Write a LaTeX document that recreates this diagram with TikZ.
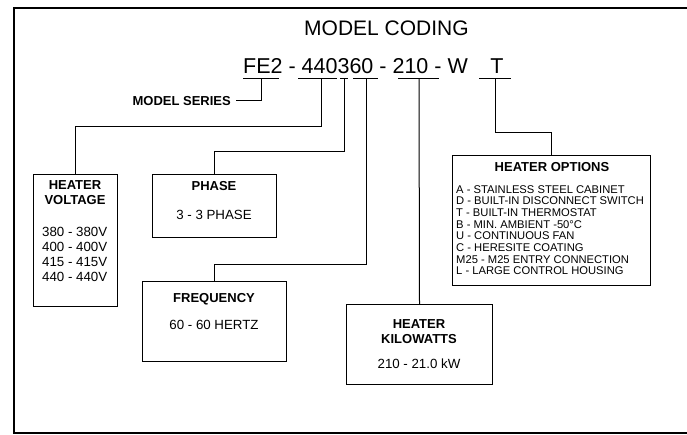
\documentclass[tikz,border=0pt]{standalone}
\usepackage{fontspec}
\setmainfont{Liberation Sans}
\begin{document}
\begin{tikzpicture}[x=1pt,y=-1pt,
  frame/.style={line width=1.4pt},
  box/.style={draw, line width=1pt, inner sep=0pt, anchor=north west},
  conn/.style={line width=1pt},
  uline/.style={line width=1pt},
  ttl/.style={font=\fontsize{21}{25}\selectfont, anchor=base, inner sep=0pt},
  codetxt/.style={font=\fontsize{21.5}{25}\selectfont, inner sep=0pt},
  hd/.style={font=\fontsize{13}{15}\selectfont\bfseries, anchor=base, inner sep=0pt},
  bd/.style={font=\fontsize{13.3}{15}\selectfont, anchor=base, inner sep=0pt},
  ol/.style={font=\fontsize{11.2}{12}\selectfont, anchor=base west, inner sep=0pt}]
\useasboundingbox (0,0) rectangle (687,434);
% outer frame
\draw[frame] (687,8) -- (14,8) -- (14,433) -- (687,433);

% title and code
\node[ttl] (title) at (386.5,35) {MODEL CODING};
\node[codetxt, anchor=base west] (code) at (243,73) {FE2 - 440360 - 210 - W};
\node[codetxt, anchor=base] (codeT) at (497,73) {T};

% underline end points and connector starts
\coordinate (uFEa) at (243,78); \coordinate (uFEb) at (279,78); \coordinate (uFE) at (261,78);
\coordinate (uVa) at (298,78);  \coordinate (uVb) at (337,78);  \coordinate (uV) at (321,78);
\coordinate (uPa) at (340,78);  \coordinate (uPb) at (348,78);  \coordinate (uP) at (344,78);
\coordinate (uFa) at (353,78);  \coordinate (uFb) at (378,78);  \coordinate (uF) at (366,78);
\coordinate (uKa) at (398,78);  \coordinate (uKb) at (439,78);  \coordinate (uK) at (419,78);
\coordinate (uTa) at (479,78);  \coordinate (uTb) at (511,78);  \coordinate (uT) at (495,78);
\foreach \n in {FE,V,P,F,K,T} \draw[uline] (u\n a) -- (u\n b);

% model series
\node[hd, anchor=base east] (ms) at (231,105) {MODEL SERIES};
\draw[conn] (uFE) |- ([xshift=5pt]ms.east);

% boxes
\node[box, minimum width=84pt, minimum height=132pt] (vbox) at (33,174) {};
\node[box, minimum width=124pt, minimum height=63pt] (pbox) at (152,174) {};
\node[box, minimum width=144pt, minimum height=80pt] (fbox) at (142,281) {};
\node[box, minimum width=146pt, minimum height=80pt] (kbox) at (346,304) {};
\node[box, minimum width=198pt, minimum height=130pt] (obox) at (452,155) {};

% bend levels
\coordinate (vbend) at (0,126);
\coordinate (pbend) at (0,151);
\coordinate (fbend) at (0,264);
\coordinate (obend) at (0,132);

% connectors
\draw[conn] (uV) -- (uV |- vbend) -| (vbox.north);
\draw[conn] (uP) -- (uP |- pbend) -| (pbox.north);
\draw[conn] (uF) -- (uF |- fbend) -| (fbox.north);
\draw[conn] (uK) -- (kbox.north);
\draw[conn] (uT) -- (uT |- obend) -| (obox.north);

% voltage box text
\node[hd] (vh1) at (75,189.5) {HEATER};
\node[hd] (vh2) at (75,204.5) {VOLTAGE};
\foreach \t [count=\i from 0] in {380 - 380V, 400 - 400V, 415 - 415V, 440 - 440V}
  \node[bd, anchor=base west] (vl\i) at (42,236+15*\i) {\t};

% phase box text
\node[hd] (ph) at (214,190) {PHASE};
\node[bd] (pt) at (214,219) {3 - 3 PHASE};

% frequency box text
\node[hd] (fh) at (214,302) {FREQUENCY};
\node[bd] (ft) at (214,329) {60 - 60 HERTZ};

% kilowatts box text
\node[hd] (kh1) at (419,328) {HEATER};
\node[hd] (kh2) at (419,343) {KILOWATTS};
\node[bd] (kt) at (419,368) {210 - 21.0 kW};

% options box text
\node[hd] (oh) at (552,171) {HEATER OPTIONS};
\foreach \t [count=\i from 0] in {A - STAINLESS STEEL CABINET, D - BUILT-IN DISCONNECT SWITCH, T - BUILT-IN THERMOSTAT, B - MIN. AMBIENT -50°C, U - CONTINUOUS FAN, C - HERESITE COATING, M25 - M25 ENTRY CONNECTION, L - LARGE CONTROL HOUSING}
  \node[ol] (ol\i) at (456,193+11.7*\i) {\t};
\end{tikzpicture}
\end{document}
